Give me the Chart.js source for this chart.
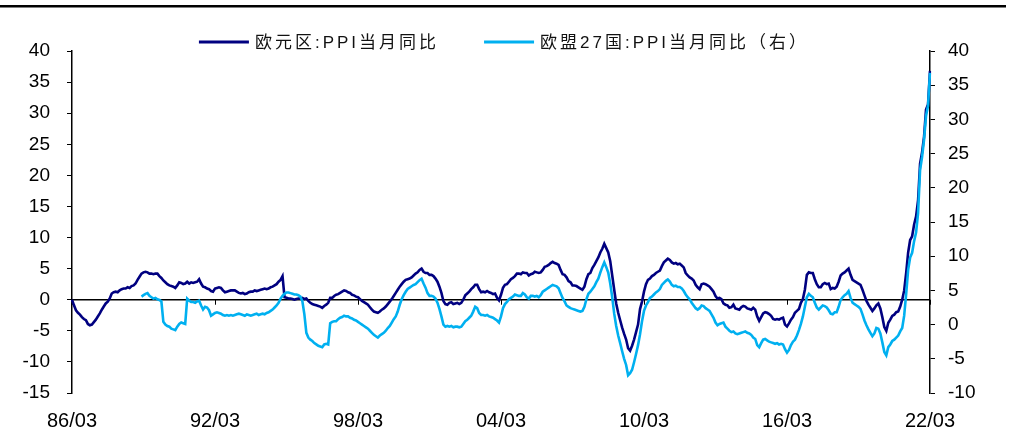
<!DOCTYPE html>
<html>
<head>
<meta charset="utf-8">
<script src="https://cdn.jsdelivr.net/npm/chart.js@4/dist/chart.umd.min.js"></script>
<style>
  html, body { margin: 0; padding: 0; background: #ffffff; }
  #wrap { width: 1013px; height: 428px; position: relative; }
  canvas { display: block; }
</style>
</head>
<body>
<div id="wrap"><canvas id="c" width="1013" height="428"></canvas></div>
<script>
// ---- Data (monthly, YoY %) ----
const startYear = 1986, startMonth = 3, monthCount = 433; // 86/03 .. 22/03
const seriesNames = ['欧元区:PPI当月同比', '欧盟27国:PPI当月同比（右）'];
const xTickEvery = 72; // labels: 86/03, 92/03, ... 22/03
const leftTicks = { min: -15, max: 40, step: 5 };
const rightTicks = { min: -10, max: 40, step: 5 };

// 欧元区 PPI 当月同比 (left axis), 86/03 .. 22/03
const euroPPI = [
  /*1986*/ 0.0,-0.9,-1.7,-2.1,-2.4,-2.8,-3.1,-3.3,-3.9,-4.1,
  /*1987*/ -4.0,-3.6,-3.2,-2.7,-2.2,-1.6,-1.1,-0.6,-0.3,0.2,1.0,1.2,
  /*1988*/ 1.3,1.2,1.5,1.7,1.8,1.8,2.0,1.9,2.2,2.3,2.6,3.2,
  /*1989*/ 3.7,4.2,4.4,4.5,4.4,4.2,4.2,4.1,4.2,4.2,3.8,3.5,
  /*1990*/ 3.1,2.8,2.5,2.3,2.2,2.1,1.9,2.3,2.8,2.7,2.5,2.6,
  /*1991*/ 2.9,2.6,2.8,2.7,2.8,2.9,3.3,2.6,2.1,2.0,1.8,1.7,
  /*1992*/ 1.4,1.3,1.8,1.9,2.0,1.9,1.5,1.2,1.3,1.4,1.5,1.5,
  /*1993*/ 1.5,1.3,1.1,1.0,1.1,0.9,1.0,1.2,1.3,1.3,1.5,1.4,
  /*1994*/ 1.5,1.6,1.7,1.8,1.7,1.8,2.0,2.1,2.3,2.5,2.9,3.2,
  /*1995*/ 3.8,0.4,0.3,0.2,0.2,0.1,0.0,0.1,0.2,0.2,0.3,0.1,
  /*1996*/ 0.2,-0.2,-0.5,-0.7,-0.8,-0.9,-1.0,-1.1,-1.3,-1.0,-0.8,-0.5,
  /*1997*/ 0.3,0.3,0.6,0.8,0.9,1.1,1.3,1.5,1.4,1.2,1.1,0.8,
  /*1998*/ 0.7,0.5,0.4,0.1,-0.2,-0.4,-0.6,-0.8,-1.2,-1.6,-1.9,-2.0,
  /*1999*/ -2.1,-1.9,-1.6,-1.4,-1.1,-0.7,-0.3,0.1,0.6,1.1,1.6,2.1,
  /*2000*/ 2.5,2.9,3.2,3.3,3.4,3.6,3.9,4.2,4.4,4.8,5.0,4.5,
  /*2001*/ 4.3,4.3,4.0,4.0,3.8,3.4,2.9,2.1,1.1,-0.2,-0.7,-0.8,
  /*2002*/ -0.5,-0.4,-0.7,-0.6,-0.5,-0.7,-0.5,0.0,0.7,1.0,1.3,1.7,
  /*2003*/ 2.0,2.4,2.4,1.7,1.2,1.3,1.2,1.4,1.2,1.1,0.9,1.0,
  /*2004*/ 0.3,-0.1,0.8,1.9,2.4,2.5,2.9,3.3,3.5,3.8,4.2,4.2,
  /*2005*/ 4.1,4.4,4.3,4.3,3.9,4.1,4.2,4.5,4.4,4.3,4.4,4.8,
  /*2006*/ 5.3,5.4,5.6,5.9,6.1,5.9,5.8,5.6,4.8,4.1,4.0,3.6,
  /*2007*/ 3.0,2.8,2.3,2.3,2.2,2.0,1.8,1.6,2.1,3.3,4.1,4.3,
  /*2008*/ 5.1,5.6,6.2,6.8,7.6,8.2,9.0,8.3,7.6,6.2,3.9,1.6,
  /*2009*/ -0.6,-2.1,-3.3,-4.5,-5.5,-6.4,-7.8,-8.2,-7.4,-6.4,-5.2,-4.0,
  /*2010*/ -1.5,-0.3,1.3,2.5,3.2,3.4,3.8,4.0,4.3,4.5,4.7,5.4,
  /*2011*/ 6.0,6.3,6.6,6.4,6.0,5.8,5.9,5.7,5.8,5.5,5.2,4.3,
  /*2012*/ 3.9,3.6,3.4,3.1,2.4,2.0,1.7,2.5,2.6,2.5,2.3,2.1,
  /*2013*/ 1.7,1.3,0.6,0.2,0.3,0.1,-0.6,-0.8,-0.9,-1.3,-1.2,-0.8,
  /*2014*/ -1.4,-1.5,-1.6,-1.2,-1.0,-1.1,-1.4,-1.5,-1.6,-1.3,-1.6,-2.7,
  /*2015*/ -3.4,-2.8,-2.2,-2.0,-2.1,-2.3,-2.6,-3.1,-3.2,-3.1,-3.2,-3.0,
  /*2016*/ -2.9,-4.0,-4.3,-3.8,-3.2,-2.8,-2.1,-1.8,-1.5,-0.5,0.1,1.6,
  /*2017*/ 4.0,4.4,4.3,4.3,3.3,2.5,2.0,2.0,2.5,2.7,2.5,2.6,
  /*2018*/ 1.7,1.9,1.8,2.1,2.9,3.9,4.2,4.4,4.7,5.0,4.0,3.2,
  /*2019*/ 3.0,2.8,2.6,2.4,1.6,0.7,-0.2,-0.8,-1.3,-1.8,-1.4,-0.9,
  /*2020*/ -0.6,-1.4,-2.8,-4.4,-5.0,-3.7,-3.2,-2.6,-2.4,-2.0,-1.9,-1.1,
  /*2021*/ 0.0,1.5,4.3,7.6,9.6,10.2,12.1,13.4,16.0,21.9,23.7,26.2,
  /*2022*/ 30.6,31.4,36.8
];

// 欧盟27国 PPI 当月同比 (right axis), starts 89/02
const eu27StartIndex = 35; // 89/02
const eu27PPI = [
  /*1989*/ 4.1,4.3,4.5,4.6,4.2,4.0,3.8,3.9,3.7,3.6,3.4,
  /*1990*/ 0.4,0.0,-0.2,-0.3,-0.6,-0.7,-0.8,-0.3,0.1,0.3,0.2,0.1,
  /*1991*/ 3.8,3.5,3.3,3.3,3.2,3.4,3.5,2.8,2.2,2.6,2.5,2.1,
  /*1992*/ 1.3,1.5,1.7,1.8,1.7,1.6,1.4,1.3,1.4,1.3,1.4,1.3,
  /*1993*/ 1.4,1.5,1.6,1.5,1.4,1.3,1.5,1.4,1.3,1.4,1.5,1.6,
  /*1994*/ 1.4,1.5,1.6,1.5,1.7,1.8,2.0,2.2,2.5,2.8,3.2,3.8,
  /*1995*/ 4.2,4.5,4.7,4.7,4.6,4.5,4.4,4.4,4.3,4.1,3.4,1.5,
  /*1996*/ -1.2,-1.9,-2.2,-2.4,-2.7,-2.9,-3.1,-3.2,-3.3,-2.9,-2.8,-2.9,
  /*1997*/ 0.2,0.4,0.5,0.5,0.8,1.0,1.1,1.3,1.2,1.2,1.0,0.9,
  /*1998*/ 0.7,0.6,0.4,0.2,0.0,-0.2,-0.4,-0.6,-0.9,-1.2,-1.5,-1.7,
  /*1999*/ -1.9,-1.6,-1.4,-1.2,-0.9,-0.5,-0.2,0.3,0.8,1.2,1.9,2.9,
  /*2000*/ 3.7,4.3,4.8,5.2,5.4,5.6,5.8,5.9,6.2,6.5,6.7,6.0,
  /*2001*/ 5.4,4.6,4.2,4.2,4.1,3.8,3.2,2.3,1.2,0.0,-0.3,-0.2,
  /*2002*/ -0.3,-0.2,-0.4,-0.3,-0.3,-0.4,-0.3,0.1,0.5,0.7,1.0,1.3,
  /*2003*/ 1.9,2.6,2.4,1.7,1.4,1.4,1.3,1.4,1.2,1.1,1.0,0.8,
  /*2004*/ 0.6,0.3,1.2,2.4,3.0,3.3,3.7,3.9,4.1,4.4,4.3,4.2,
  /*2005*/ 4.2,4.6,4.4,4.0,3.8,4.2,4.2,4.1,4.2,4.0,4.3,4.8,
  /*2006*/ 5.0,5.2,5.4,5.6,5.8,5.7,5.6,5.3,4.6,3.9,3.4,2.8,
  /*2007*/ 2.6,2.4,2.3,2.2,2.1,2.0,1.9,2.0,2.6,3.7,4.5,4.8,
  /*2008*/ 5.2,5.6,6.2,6.7,7.6,8.4,9.1,8.4,7.6,6.0,4.0,1.6,
  /*2009*/ -0.2,-1.6,-2.7,-3.9,-5.0,-5.9,-7.4,-7.1,-6.6,-5.5,-4.3,-3.0,
  /*2010*/ -1.4,0.5,2.0,2.8,3.3,3.9,4.1,4.4,4.7,4.9,5.2,5.8,
  /*2011*/ 6.1,6.4,6.6,6.3,5.8,5.6,5.7,5.5,5.5,5.3,4.9,4.4,
  /*2012*/ 4.0,3.7,3.2,2.8,2.4,2.2,2.4,2.8,2.7,2.4,2.2,2.0,
  /*2013*/ 1.5,1.0,0.3,-0.1,0.1,0.2,0.3,-0.3,-0.6,-0.9,-1.1,-1.0,
  /*2014*/ -1.3,-1.4,-1.3,-1.2,-1.1,-1.0,-1.2,-1.3,-1.5,-1.9,-2.1,-3.0,
  /*2015*/ -3.3,-2.7,-2.2,-2.1,-2.3,-2.5,-2.6,-2.7,-2.8,-2.7,-2.9,-2.8,
  /*2016*/ -2.9,-3.6,-4.1,-3.7,-3.0,-2.5,-2.2,-1.6,-0.8,0.1,1.2,2.6,
  /*2017*/ 4.0,4.5,4.2,4.0,3.2,2.5,2.2,2.5,2.8,2.7,2.5,2.1,
  /*2018*/ 1.6,1.5,1.8,1.8,2.6,3.6,4.0,4.3,4.5,4.9,3.9,3.2,
  /*2019*/ 3.0,2.8,2.6,2.3,1.5,0.6,-0.1,-0.7,-1.2,-1.7,-1.3,-0.5,
  /*2020*/ -0.6,-1.3,-2.6,-4.0,-4.5,-3.3,-2.9,-2.4,-2.2,-1.9,-1.6,-1.0,
  /*2021*/ -0.5,1.3,4.5,8.0,9.8,10.5,12.2,13.5,16.3,22.6,24.5,27.0,
  /*2022*/ 30.5,32.0,36.8
];

// category labels "YY/MM"
const monthLabels = [];
for (let k = 0; k < monthCount; k++) {
  const m0 = startMonth - 1 + k;
  const y = startYear + Math.floor(m0 / 12);
  const m = (m0 % 12) + 1;
  monthLabels.push(String(y % 100).padStart(2, '0') + '/' + String(m).padStart(2, '0'));
}
const eu27Data = new Array(eu27StartIndex).fill(null).concat(eu27PPI);

const NAVY = '#000080';
const SKY = '#00B0F0';
const FONT = '"Liberation Sans", Arial, "Noto Sans CJK SC", sans-serif';

const decorPlugin = {
  id: 'decor',
  beforeDatasetsDraw(chart) {
    const ctx = chart.ctx;
    const xs = chart.scales.x, ys = chart.scales.y;
    const y0 = ys.getPixelForValue(0);
    ctx.save();
    ctx.strokeStyle = '#000';
    ctx.lineWidth = 1.5;
    ctx.beginPath();
    ctx.moveTo(chart.chartArea.left, y0);
    ctx.lineTo(chart.chartArea.right, y0);
    ctx.stroke();
    ctx.lineWidth = 1;
    for (let k = 0; k < monthLabels.length; k += xTickEvery) {
      const px = Math.round(xs.getPixelForValue(k)) + 0.5;
      ctx.beginPath();
      ctx.moveTo(px, y0);
      ctx.lineTo(px, y0 + 5);
      ctx.stroke();
    }
    ctx.restore();
  },
  afterDraw(chart) {
    const ctx = chart.ctx;
    ctx.save();
    // top rule
    ctx.fillStyle = '#000';
    ctx.fillRect(0, 5, 1006, 2.5);
    // legend
    ctx.font = '17px ' + FONT;
    try { ctx.letterSpacing = '3px'; } catch (e) {}
    ctx.textBaseline = 'middle';
    ctx.textAlign = 'left';
    const ds = chart.data.datasets;
    const lineLen = 50, gapLT = 6, gapItems = 45;
    const w = ds.map(d => ctx.measureText(d.label).width);
    const total = lineLen + gapLT + w[0] + gapItems + lineLen + gapLT + w[1];
    let x = 504 - total / 2;
    const ly = 42;
    ds.forEach((d, i) => {
      ctx.fillStyle = d.borderColor;
      ctx.fillRect(x, ly - 1.5, lineLen, 3);
      x += lineLen + gapLT;
      ctx.fillStyle = '#111';
      ctx.fillText(d.label, x, ly + 1);
      x += w[i] + gapItems;
    });
    ctx.restore();
  }
};

new Chart(document.getElementById('c'), {
  type: 'line',
  data: {
    labels: monthLabels,
    datasets: [
      { label: seriesNames[0], data: euroPPI, yAxisID: 'y', borderColor: NAVY, backgroundColor: NAVY,
        borderWidth: 2.6, pointRadius: 0, tension: 0, order: 1 },
      { label: seriesNames[1], data: eu27Data, yAxisID: 'y1', borderColor: SKY, backgroundColor: SKY,
        borderWidth: 2.6, pointRadius: 0, tension: 0, order: 0, spanGaps: false }
    ]
  },
  options: {
    responsive: false,
    animation: false,
    devicePixelRatio: 1,
    layout: { padding: { top: 51, left: 0, right: 0, bottom: 0 } },
    plugins: { legend: { display: false }, tooltip: { enabled: false } },
    scales: {
      x: {
        type: 'category',
        offset: false,
        grid: { display: false },
        border: { display: false },
        ticks: {
          autoSkip: false, maxRotation: 0, minRotation: 0, padding: 8,
          color: '#000', font: { family: FONT, size: 20 },
          callback: function (v, idx) { return idx % xTickEvery === 0 ? monthLabels[idx] : null; }
        },
        afterFit: s => { s.height = 35; }
      },
      y: {
        position: 'left', min: leftTicks.min, max: leftTicks.max,
        grid: { drawOnChartArea: false, drawTicks: true, tickLength: 5, color: '#000', lineWidth: 1 },
        border: { display: true, color: '#000', width: 1.5 },
        ticks: { stepSize: leftTicks.step, padding: 17, color: '#000', font: { family: FONT, size: 19 } },
        afterFit: s => { s.width = 72; }
      },
      y1: {
        position: 'right', min: rightTicks.min, max: rightTicks.max,
        grid: { drawOnChartArea: false, drawTicks: true, tickLength: 5, color: '#000', lineWidth: 1 },
        border: { display: true, color: '#000', width: 1.5 },
        ticks: { stepSize: rightTicks.step, padding: 13, color: '#000', font: { family: FONT, size: 19 } },
        afterFit: s => { s.width = 83; }
      }
    }
  },
  plugins: [decorPlugin]
});
</script>
</body>
</html>
